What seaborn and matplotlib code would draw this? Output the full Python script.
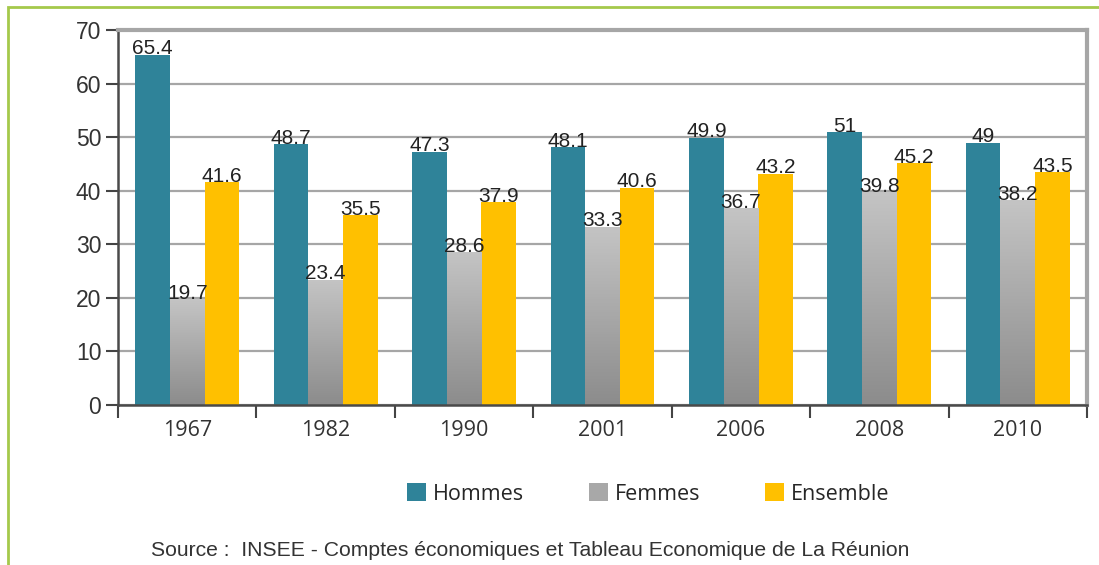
import matplotlib
matplotlib.use("Agg")
import matplotlib.pyplot as plt
import numpy as np
import pandas as pd
import seaborn as sns
from matplotlib.patches import Rectangle, Patch
from matplotlib.colors import LinearSegmentedColormap

years = ["1967", "1982", "1990", "2001", "2006", "2008", "2010"]
hommes = [65.4, 48.7, 47.3, 48.1, 49.9, 51, 49]
femmes = [19.7, 23.4, 28.6, 33.3, 36.7, 39.8, 38.2]
ensemble = [41.6, 35.5, 37.9, 40.6, 43.2, 45.2, 43.5]
series = ["Hommes", "Femmes", "Ensemble"]
colors = ["#2f8399", "#a8a8a8", "#ffc000"]
source = "Source :  INSEE - Comptes économiques et Tableau Economique de La Réunion"

df = pd.DataFrame({
    "annee": years * 3,
    "serie": ["Hommes"] * 7 + ["Femmes"] * 7 + ["Ensemble"] * 7,
    "valeur": hommes + femmes + ensemble,
})

sns.set_theme(style="white")
plt.rcParams["font.family"] = ["Liberation Sans", "DejaVu Sans"]

fig = plt.figure(figsize=(10.99, 5.65), dpi=100)
ax = fig.add_axes([118 / 1099, 1 - 405 / 565, (1087 - 118) / 1099, (405 - 30) / 565])

sns.barplot(data=df, x="annee", y="valeur", hue="serie", hue_order=series,
            palette=colors, width=0.75, gap=0, saturation=1, ax=ax,
            legend=False, linewidth=0, errorbar=None)

# gradient on the Femmes bars
grad = LinearSegmentedColormap.from_list("g", ["#8c8c8c", "#c4c4c4"])
for p in ax.containers[1]:
    x0, w, h = p.get_x(), p.get_width(), p.get_height()
    im = ax.imshow(np.linspace(0, 1, 100).reshape(-1, 1), cmap=grad, aspect="auto",
                   origin="lower", extent=[x0, x0 + w, 0, h], zorder=p.get_zorder())
    im.set_clip_path(p)
    p.set_facecolor("none")
ax.set_xlim(-0.5, 6.5)
ax.set_ylim(0, 70)
ax.set_yticks(range(0, 71, 10))
ax.yaxis.grid(True, color="#a6a6a6", linewidth=1.6)
ax.set_axisbelow(True)

for cont, vals in zip(ax.containers, [hommes, femmes, ensemble]):
    for p, v in zip(cont, vals):
        ax.text(p.get_x() + p.get_width() / 2, v - 0.7, f"{v:g}", ha="center", va="bottom",
                fontsize=15, color="#222222", zorder=5)

ax.set_xlabel("")
ax.set_ylabel("")
ax.set_xticks(np.arange(0, 7))
ax.set_xticklabels(years, fontsize=15.5, family=["Open Sans", "DejaVu Sans"], color="#333333")
ax.set_xticks(np.arange(-0.5, 7, 1), minor=True)
ax.tick_params(axis="x", which="major", length=0, pad=11)
ax.tick_params(axis="x", which="minor", length=9, width=1.5, color="#444444", direction="out",
               bottom=True)
ax.tick_params(axis="y", length=9, width=1.5, color="#444444", direction="out", left=True,
               labelsize=16.5, labelcolor="#333333", pad=3)

for side in ["left", "bottom"]:
    ax.spines[side].set_color("#4a4a4a")
    ax.spines[side].set_linewidth(1.8)
for side in ["top", "right"]:
    ax.spines[side].set_color("#a6a6a6")
    ax.spines[side].set_linewidth(3)

handles = [Patch(facecolor=c, edgecolor="none") for c in colors]
fig.legend(handles, series, loc="center", bbox_to_anchor=(648 / 1099, 1 - 494 / 565),
           ncol=3, frameon=False, handlelength=0.9, handleheight=0.9, handletextpad=0.3,
           columnspacing=3.0, prop={"family": ["Open Sans", "DejaVu Sans"], "size": 15.5})

fig.text(530 / 1099, 1 - 551 / 565, source, ha="center", va="center", fontsize=15.2,
         color="#333333")

fig.patches.append(Rectangle((8 / 1099, -0.1), 1.2, 1 - 7 / 565 + 0.1, transform=fig.transFigure,
                             fill=False, edgecolor="#a5c94b", linewidth=2, zorder=-1))

fig.savefig("out.png", dpi=100)
